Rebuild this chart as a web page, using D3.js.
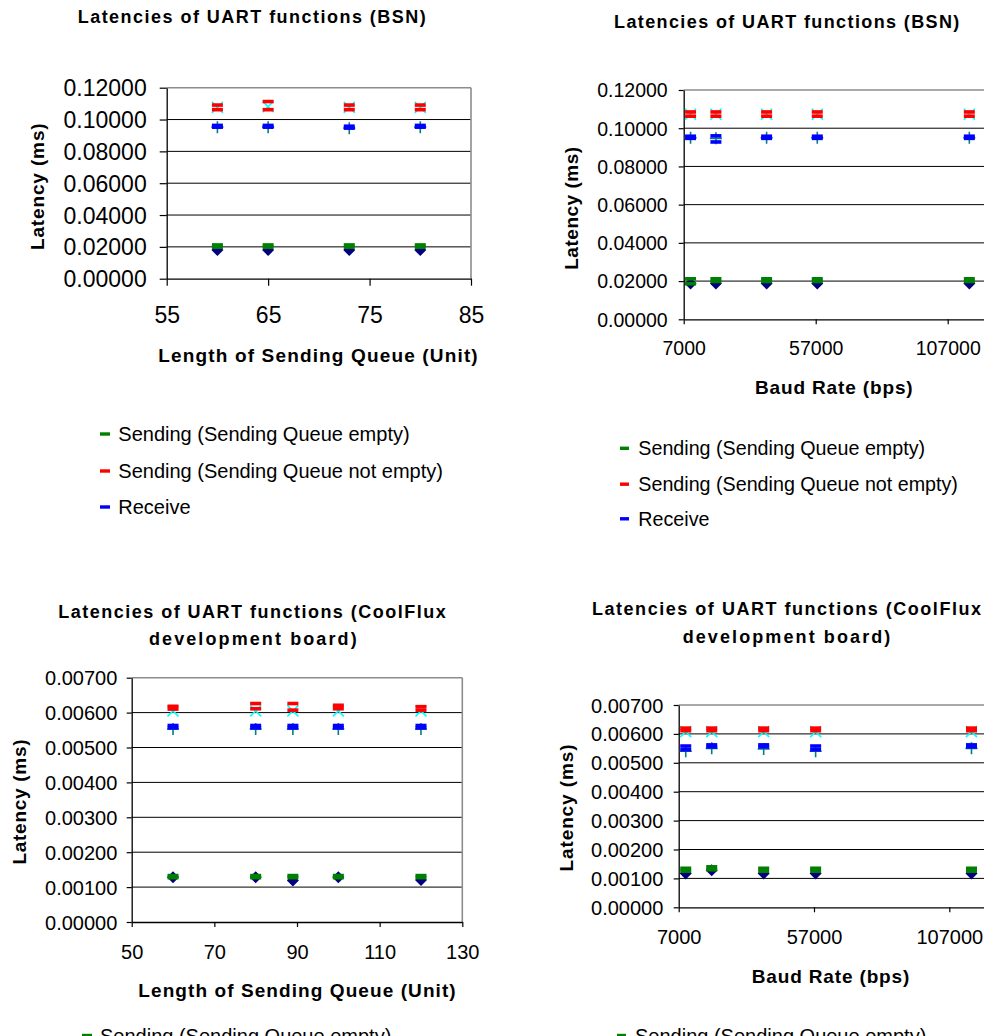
<!DOCTYPE html>
<html><head><meta charset="utf-8">
<script src="https://cdn.jsdelivr.net/npm/d3@7"></script>
<style>body{margin:0;background:#fff}svg{display:block}text{font-family:"Liberation Sans",Arial,sans-serif}</style>
</head><body>
<script>
// ---------- DATA ----------
// Chart A: BSN, latency vs length of sending queue
const queueLenBSN = [60, 65, 73, 80];
const bsnQ_empty1 = [0.0180, 0.0180, 0.0180, 0.0180];
const bsnQ_empty2 = [0.0212, 0.0212, 0.0212, 0.0212];
const bsnQ_empty3 = [0.0198, 0.0198, 0.0198, 0.0198];
const bsnQ_full1  = [0.1076, 0.1080, 0.1076, 0.1076];
const bsnQ_full2  = [0.1091, 0.1113, 0.1091, 0.1091];
const bsnQ_full3  = [0.1062, 0.1062, 0.1062, 0.1062];
const bsnQ_recv1  = [0.0952, 0.0952, 0.0945, 0.0952];
const bsnQ_recv2  = [0.0963, 0.0963, 0.0958, 0.0963];
const bsnQ_recv3  = [0.0952, 0.0952, 0.0946, 0.0952];

// Chart B: BSN, latency vs baud rate
const baudBSN = [9600, 19200, 38400, 57600, 115200];
const bsnB_empty1 = [0.0188, 0.0188, 0.0188, 0.0188, 0.0188];
const bsnB_empty2 = [0.0212, 0.0212, 0.0212, 0.0212, 0.0212];
const bsnB_empty3 = [0.0186, 0.0198, 0.0198, 0.0198, 0.0198];
const bsnB_full1  = [0.1073, 0.1073, 0.1073, 0.1073, 0.1073];
const bsnB_full2  = [0.1085, 0.1085, 0.1085, 0.1085, 0.1085];
const bsnB_full3  = [0.1063, 0.1063, 0.1063, 0.1063, 0.1063];
const bsnB_recv1  = [0.0950, 0.0947, 0.0950, 0.0950, 0.0950];
const bsnB_recv2  = [0.0958, 0.0960, 0.0958, 0.0958, 0.0958];
const bsnB_recv3  = [0.0947, 0.0928, 0.0947, 0.0947, 0.0947];

// Chart C: CoolFlux, latency vs length of sending queue
const queueLenCF = [60, 80, 89, 100, 120];
const cfQ_empty1 = [0.00128, 0.00128, 0.00119, 0.00128, 0.00120];
const cfQ_empty2 = [0.00133, 0.00133, 0.00133, 0.00133, 0.00133];
const cfQ_empty3 = [0.00127, 0.00127, 0.00127, 0.00127, 0.00127];
const cfQ_full1  = [0.00605, 0.00605, 0.00605, 0.00605, 0.00605];
const cfQ_full2  = [0.00618, 0.00626, 0.00626, 0.00621, 0.00617];
const cfQ_full3  = [0.00610, 0.00611, 0.00607, 0.00611, 0.00607];
const cfQ_recv1  = [0.00553, 0.00553, 0.00553, 0.00553, 0.00553];
const cfQ_recv2  = [0.00563, 0.00563, 0.00563, 0.00563, 0.00563];
const cfQ_recv3  = [0.00556, 0.00556, 0.00556, 0.00556, 0.00556];

// Chart D: CoolFlux, latency vs baud rate
const baudCF = [9600, 19200, 38400, 57600, 115200];
const cfB_empty1 = [0.00117, 0.00128, 0.00117, 0.00117, 0.00117];
const cfB_empty2 = [0.00135, 0.00140, 0.00135, 0.00135, 0.00135];
const cfB_empty3 = [0.00125, 0.00130, 0.00125, 0.00125, 0.00125];
const cfB_full1  = [0.00608, 0.00608, 0.00608, 0.00608, 0.00608];
const cfB_full2  = [0.00620, 0.00620, 0.00620, 0.00620, 0.00620];
const cfB_full3  = [0.00611, 0.00611, 0.00611, 0.00611, 0.00611];
const cfB_recv1  = [0.00540, 0.00550, 0.00548, 0.00540, 0.00550];
const cfB_recv2  = [0.00558, 0.00562, 0.00562, 0.00558, 0.00562];
const cfB_recv3  = [0.00545, 0.00555, 0.00555, 0.00545, 0.00555];

// Tick values
const queueTicksBSN = [55, 65, 75, 85];
const queueTicksCF = [50, 70, 90, 110, 130];
const baudTicks = [7000, 57000, 107000, 157000];
const latTicksBSN = [0, 0.02, 0.04, 0.06, 0.08, 0.10, 0.12];
const latTicksCF = [0, 0.001, 0.002, 0.003, 0.004, 0.005, 0.006, 0.007];

// Texts
const titleBSN = ["Latencies of UART functions (BSN)"];
const titleCF = ["Latencies of UART functions (CoolFlux", "development board)"];
const xTitleQueue = "Length of Sending Queue (Unit)";
const xTitleBaud = "Baud Rate (bps)";
const yTitle = "Latency (ms)";
const legendLabels = ["Sending (Sending Queue empty)", "Sending (Sending Queue not empty)", "Receive"];

// ---------- LAYOUT ----------
const W = 984, H = 1036;
const svg = d3.select("body").append("svg").attr("width", W).attr("height", H);

const C = { green: "#008000", red: "#FF0000", blue: "#0000FF", navy: "#000080", cyan: "#00FFFF", teal: "#008080" };

const charts = [
  { x: queueLenBSN, s: [bsnQ_empty1, bsnQ_empty2, bsnQ_empty3, bsnQ_full1, bsnQ_full2, bsnQ_full3, bsnQ_recv1, bsnQ_recv2, bsnQ_recv3],
    L: 166.7, R: 471, T: 87.7, B: 278.7, xDom: [55, 85], xTicks: queueTicksBSN, yDom: [0, 0.12], yTicks: latTicksBSN,
    tickFont: 23, tickLen: 7, yLabGap: 20, xTickY: 314.7,
    title: titleBSN.map((t, i) => ({ t, cx: 251.7, cy: 16.2, len: 348 })),
    xt: { t: xTitleQueue, cx: 318, cy: 355.3, len: 319.4 },
    yt: { xb: 44, cy: 186.7, len: 126.7 },
    leg: { dashX: 100, dashW: 10, textX: 118.3, rows: [434, 471, 507], font: 20 } },
  { x: baudBSN, s: [bsnB_empty1, bsnB_empty2, bsnB_empty3, bsnB_full1, bsnB_full2, bsnB_full3, bsnB_recv1, bsnB_recv2, bsnB_recv3],
    L: 683.7, R: 683.7 + 150000 * 132 / 50000, T: 90, B: 319.3, xDom: [7000, 157000], xTicks: baudTicks, yDom: [0, 0.12], yTicks: latTicksBSN,
    tickFont: 19.5, tickLen: 5, yLabGap: 16, xTickY: 348.3,
    title: titleBSN.map((t, i) => ({ t, cx: 786.7, cy: 21.2, len: 345.3 })),
    xt: { t: xTitleBaud, cx: 833.8, cy: 387.5, len: 157.7 },
    yt: { xb: 578.3, cy: 208.3, len: 123 },
    leg: { dashX: 620, dashW: 9, textX: 638.3, rows: [448.3, 484.2, 518.8], font: 19.7 } },
  { x: queueLenCF, s: [cfQ_empty1, cfQ_empty2, cfQ_empty3, cfQ_full1, cfQ_full2, cfQ_full3, cfQ_recv1, cfQ_recv2, cfQ_recv3],
    L: 131.7, R: 462.3, T: 677.7, B: 922, xDom: [50, 130], xTicks: queueTicksCF, yDom: [0, 0.007], yTicks: latTicksCF,
    tickFont: 20, tickLen: 5, yLabGap: 14.4, xTickY: 952.2,
    title: [{ t: titleCF[0], cx: 252, cy: 611.2, len: 387.4 }, { t: titleCF[1], cx: 252.8, cy: 639, len: 207.7 }],
    xt: { t: xTitleQueue, cx: 297, cy: 990.3, len: 317.4 },
    yt: { xb: 26, cy: 802, len: 125 },
    leg: { dashX: 82, dashW: 10, textX: 100, rows: [1035.5, 1072, 1108], font: 20 } },
  { x: baudCF, s: [cfB_empty1, cfB_empty2, cfB_empty3, cfB_full1, cfB_full2, cfB_full3, cfB_recv1, cfB_recv2, cfB_recv3],
    L: 678.7, R: 678.7 + 150000 * 135.3 / 50000, T: 705, B: 907.3, xDom: [7000, 157000], xTicks: baudTicks, yDom: [0, 0.007], yTicks: latTicksCF,
    tickFont: 20, tickLen: 5, yLabGap: 15.4, xTickY: 936.7,
    title: [{ t: titleCF[0], cx: 786.5, cy: 609, len: 389 }, { t: titleCF[1], cx: 786.5, cy: 637, len: 207.7 }],
    xt: { t: xTitleBaud, cx: 830.5, cy: 975.8, len: 157.6 },
    yt: { xb: 573.3, cy: 808, len: 127 },
    leg: { dashX: 617, dashW: 9, textX: 635, rows: [1035.5, 1072, 1108], font: 20 } }
];

const fmtY = d3.format(".5f");

charts.forEach(ch => {
  const g = svg.append("g");
  const x = d3.scaleLinear().domain(ch.xDom).range([ch.L, ch.R]);
  const y = d3.scaleLinear().domain(ch.yDom).range([ch.B, ch.T]);

  // gridlines
  g.selectAll(".grid").data(ch.yTicks.filter(v => v > 0 && v < ch.yDom[1])).join("line")
    .attr("x1", ch.L).attr("x2", ch.R).attr("y1", d => y(d)).attr("y2", d => y(d))
    .attr("stroke", "#000").attr("stroke-width", 1);
  // plot border (top/right gray)
  g.append("line").attr("x1", ch.L).attr("x2", ch.R).attr("y1", ch.T).attr("y2", ch.T).attr("stroke", "#8c8c8c").attr("stroke-width", 1.6);
  g.append("line").attr("x1", ch.R).attr("x2", ch.R).attr("y1", ch.T).attr("y2", ch.B).attr("stroke", "#8c8c8c").attr("stroke-width", 1.6);

  // axes
  const yAxis = d3.axisLeft(y).tickValues(ch.yTicks).tickFormat(fmtY).tickSizeInner(ch.tickLen).tickSizeOuter(0).tickPadding(ch.yLabGap - ch.tickLen);
  const ya = g.append("g").attr("transform", `translate(${ch.L},0)`).call(yAxis);
  const xAxis = d3.axisBottom(x).tickValues(ch.xTicks).tickFormat(d3.format("d")).tickSizeInner(ch.tickLen).tickSizeOuter(0);
  const xa = g.append("g").attr("transform", `translate(0,${ch.B})`).call(xAxis);
  [ya, xa].forEach(a => {
    a.select(".domain").attr("stroke", "#000").attr("stroke-width", 1.3);
    a.selectAll(".tick line").attr("stroke", "#000").attr("stroke-width", 1.2);
    a.selectAll("text").attr("fill", "#000").style("font-size", ch.tickFont + "px").style("font-family", '"Liberation Sans",Arial,sans-serif');
  });
  ya.selectAll("text").attr("dy", "0.35em");
  xa.selectAll("text").attr("y", null).attr("dy", null)
    .attr("transform", `translate(0,${ch.xTickY - ch.B})`).attr("dominant-baseline", null)
    .attr("dy", "0.36em");

  // titles
  ch.title.forEach(t => {
    g.append("text").text(t.t).attr("x", t.cx).attr("y", t.cy).attr("dy", "0.36em")
      .attr("text-anchor", "middle").attr("font-weight", "bold").attr("font-size", 18)
      .attr("textLength", t.len).attr("lengthAdjust", "spacing");
  });
  g.append("text").text(ch.xt.t).attr("x", ch.xt.cx).attr("y", ch.xt.cy).attr("dy", "0.36em")
    .attr("text-anchor", "middle").attr("font-weight", "bold").attr("font-size", 19)
    .attr("textLength", ch.xt.len).attr("lengthAdjust", "spacing");
  g.append("text").text(yTitle).attr("transform", `translate(${ch.yt.xb},${ch.yt.cy}) rotate(-90)`)
    .attr("text-anchor", "middle").attr("font-weight", "bold").attr("font-size", 19)
    .attr("textLength", ch.yt.len).attr("lengthAdjust", "spacing");

  // markers
  const pts = (arr) => ch.x.map((xv, i) => ({ x: xv, y: arr[i] }));
  const diamond = (arr, col) => g.append("g").selectAll("path").data(pts(arr)).join("path")
    .attr("d", d => { const cx = x(d.x), cy = y(d.y), r = 6; return `M${cx},${cy - r}L${cx + r},${cy}L${cx},${cy + r}L${cx - r},${cy}Z`; })
    .attr("fill", col);
  const dash = (arr, col) => g.append("g").selectAll("rect").data(pts(arr)).join("rect")
    .attr("x", d => x(d.x) - 5.5).attr("y", d => y(d.y) - 1.8).attr("width", 11).attr("height", 3.6).attr("fill", col);
  const cross = (arr, col) => g.append("g").selectAll("path").data(pts(arr)).join("path")
    .attr("d", d => { const cx = x(d.x), cy = y(d.y), r = 5.5; return `M${cx - r},${cy - r}L${cx + r},${cy + r}M${cx - r},${cy + r}L${cx + r},${cy - r}`; })
    .attr("stroke", col).attr("stroke-width", 1.6).attr("fill", "none");
  const plus = (arr, col) => g.append("g").selectAll("path").data(pts(arr)).join("path")
    .attr("d", d => { const cx = x(d.x), cy = y(d.y), r = 6; return `M${cx - r},${cy}L${cx + r},${cy}M${cx},${cy - r}L${cx},${cy + r}`; })
    .attr("stroke", col).attr("stroke-width", 1.6).attr("fill", "none");

  const s = ch.s;
  diamond(s[0], C.navy);
  dash(s[1], C.green); dash(s[2], C.green);
  cross(s[3], C.cyan);
  dash(s[4], C.red); dash(s[5], C.red);
  plus(s[6], C.teal);
  dash(s[7], C.blue); dash(s[8], C.blue);

  // legend
  const legCols = [C.green, C.red, C.blue];
  legendLabels.forEach((lab, i) => {
    const cy = ch.leg.rows[i];
    g.append("rect").attr("x", ch.leg.dashX).attr("y", cy - 1.7).attr("width", ch.leg.dashW).attr("height", 3.4).attr("fill", legCols[i]);
    g.append("text").text(lab).attr("x", ch.leg.textX).attr("y", cy).attr("dy", "0.36em")
      .attr("font-size", ch.leg.font).attr("fill", "#000");
  });
});
</script>
</body></html>
